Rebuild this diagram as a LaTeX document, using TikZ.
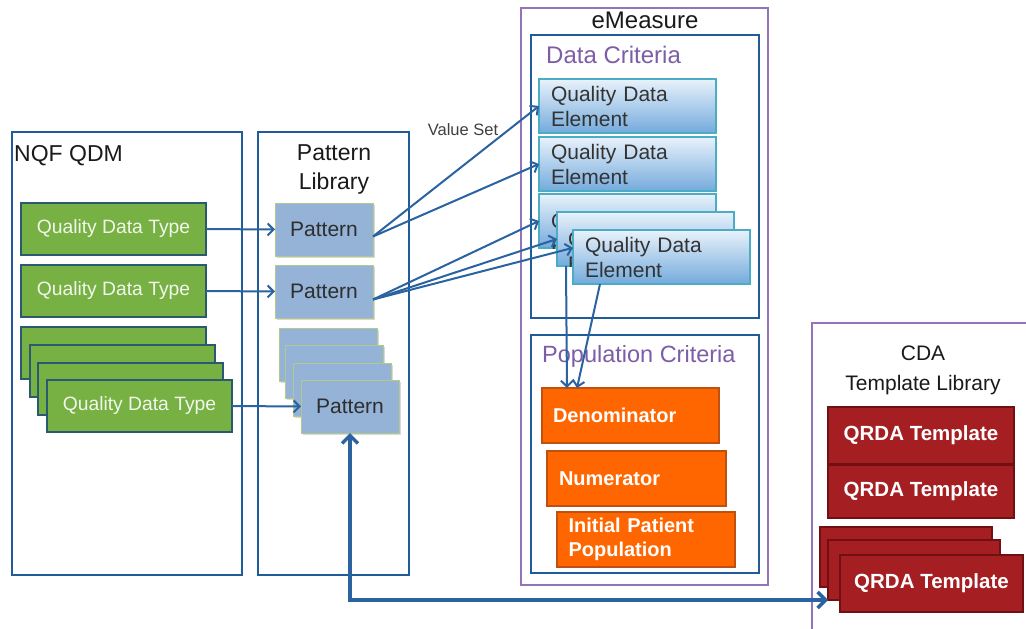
\documentclass[tikz,border=0pt]{standalone}
\usepackage{fontspec}
\setmainfont{Liberation Sans}
\usetikzlibrary{arrows.meta,calc,shadows}
\definecolor{frameblue}{HTML}{1F5C99}
\definecolor{framepurple}{HTML}{9473B8}
\definecolor{titlepurple}{HTML}{7C5DA6}
\definecolor{titleblack}{HTML}{1A1A1A}
\definecolor{qdtgreen}{HTML}{77B043}
\definecolor{qdtborder}{HTML}{2A5A72}
\definecolor{patblue}{HTML}{95B3D7}
\definecolor{patborder}{HTML}{B3C98C}
\definecolor{qdetop}{HTML}{E8F2FB}
\definecolor{qdebot}{HTML}{74AADC}
\definecolor{qdeborder}{HTML}{4BACC6}
\definecolor{orangefill}{HTML}{FF6600}
\definecolor{orangeborder}{HTML}{C0500F}
\definecolor{redfill}{HTML}{A51E22}
\definecolor{redborder}{HTML}{701015}
\definecolor{arrowblue}{HTML}{2A63A0}
\tikzset{
  nw/.style={anchor=north west, inner sep=0pt, outer sep=0pt},
  frame/.style={nw, draw=frameblue, line width=2.5pt},
  pframe/.style={nw, draw=framepurple, line width=2pt},
  title/.style={inner sep=0pt, text=titleblack, font=\fontsize{23}{29}\selectfont},
  qdt/.style={nw, draw=qdtborder, fill=qdtgreen, line width=2pt, text=white!90!qdtgreen,
     font=\fontsize{19.3}{23}\selectfont, minimum width=185pt, minimum height=52pt},
  pat/.style={nw, draw=patborder, fill=patblue, line width=1pt, text=black!82,
     font=\fontsize{21}{25}\selectfont, minimum width=98pt, minimum height=53pt,
     drop shadow={shadow xshift=1.5pt, shadow yshift=-1.5pt, fill=black!30}},
  qdebox/.style={nw, draw=qdeborder, top color=qdetop, bottom color=qdebot, line width=1.2pt,
     minimum width=177pt, minimum height=54pt},
  qde/.style={qdebox, text=black!80, font=\fontsize{21}{25}\selectfont, align=left,
     inner xsep=12pt, text width=153pt},
  qdetext/.style={anchor=base west, inner sep=0pt, text=black!80, align=left,
     font=\fontsize{21}{25}\selectfont},
  orng/.style={nw, draw=orangeborder, fill=orangefill, line width=1.2pt, text=white,
     font=\bfseries\fontsize{20}{24}\selectfont, align=left,
     inner xsep=11pt, text width=155pt, minimum width=177pt, minimum height=55pt},
  qrda/.style={nw, draw=redborder, fill=redfill, line width=1.2pt, text=white,
     font=\bfseries\fontsize{20.5}{24}\selectfont, minimum height=57pt},
  conn/.style={draw=arrowblue, line width=2pt, -{Straight Barb[length=6pt,width=12pt]}},
  bigconn/.style={draw=arrowblue, line width=3.5pt,
     {Straight Barb[length=8pt,width=16pt]}-{Straight Barb[length=8pt,width=16pt]}}
}
\begin{document}
\begin{tikzpicture}[x=1pt,y=-1pt]
\useasboundingbox (0,0) rectangle (1026,629);
\clip (0,0) rectangle (1026,629);
\fill[white] (0,0) rectangle (1026,629);

% containers
\node[frame, minimum width=230pt, minimum height=443pt] (nqf) at (12,132) {};
\node[title, anchor=west] (nqft) at (14,156) {NQF QDM};
\node[frame, minimum width=151pt, minimum height=443pt] (plib) at (258,132) {};
\node[title, align=center] (plibt) at (334,169) {Pattern\\Library};
\node[pframe, minimum width=247pt, minimum height=577pt] (emeas) at (521,8) {};
\node[title, font=\fontsize{24}{29}\selectfont] (emeast) at (645,20) {eMeasure};
\node[frame, minimum width=228pt, minimum height=283pt] (dcrit) at (531,35) {};
\node[title, anchor=west, text=titlepurple, font=\fontsize{24}{29}\selectfont] (dcritt) at (546,55) {Data Criteria};
\node[frame, minimum width=228pt, minimum height=238pt] (pcrit) at (531,335) {};
\node[title, anchor=west, text=titlepurple, font=\fontsize{23.5}{29}\selectfont] (pcritt) at (542,356) {Population Criteria};
\node[pframe, minimum width=230pt, minimum height=330pt] (cda) at (812,323) {};
\node[title, align=center, font=\fontsize{21}{30}\selectfont] (cdat) at (923,370) {CDA\\Template Library};

% quality data types
\node[qdt] (qdt1) at (21,203) {Quality Data Type};
\node[qdt] (qdt2) at (21,265) {Quality Data Type};
\node[qdt] (qdtb1) at (21,327) {};
\node[qdt] (qdtb2) at (30,345) {};
\node[qdt] (qdtb3) at (38,363) {};
\node[qdt] (qdt4) at (47,380) {Quality Data Type};

% patterns
\node[pat] (p1) at (275,203) {Pattern};
\node[pat] (p2) at (275,265) {Pattern};
\node[pat] (pb1) at (279,328) {};
\node[pat] (pb2) at (285,345) {};
\node[pat] (pb3) at (293,363) {};
\node[pat] (pf) at (301,380) {Pattern};

% quality data elements
\node[qde] (qde1) at (539,79) {Quality Data\\Element};
\node[qde] (qde2) at (539,137) {Quality Data\\Element};
\node[qdebox] (qde3a) at (539,194) {};
\begin{scope}
  \clip (qde3a.north west) rectangle (qde3a.south east);
  \node[qdetext] (qde3at) at (551,253) {Quality Data\\Element};
\end{scope}
\node[qdebox] (qde3b) at (557,212) {};
\begin{scope}
  \clip (qde3b.north west) rectangle (qde3b.south east);
  \node[qdetext] (qde3bt) at (568,271) {Quality Data\\Element};
\end{scope}
\node[qde] (qde3c) at (573,230) {Quality Data\\Element};

% population criteria
\node[orng] (den) at (542,388) {Denominator};
\node[orng, minimum width=179pt] (num) at (547,451) {Numerator};
\node[orng, minimum width=178pt] (ipp) at (557,512) {Initial Patient\\Population};

% QRDA templates
\node[qrda, minimum width=186pt] (q1) at (828,407) {QRDA Template};
\node[qrda, minimum width=186pt, minimum height=53pt] (q2) at (828,465) {QRDA Template};
\node[qrda, minimum width=172pt, minimum height=60pt] (qb1) at (820,527) {};
\node[qrda, minimum width=172pt, minimum height=60pt] (qb2) at (828,540) {};
\node[qrda, minimum width=183pt] (qf) at (840,555) {QRDA Template};

% label
\node[inner sep=0pt, text=black!75, font=\fontsize{16.5}{19}\selectfont] (vs) at (463,130) {Value Set};

% connectors
\draw[conn] (qdt1.east) -- (p1.west);
\draw[conn] (qdt2.east) -- (p2.west);
\draw[conn] (qdt4.east) -- (pf.west);
\draw[conn] ([yshift=-7pt]p1.east) -- (qde1.west);
\draw[conn] ([yshift=-7pt]p1.east) -- (qde2.west);
\draw[conn] ([yshift=-8pt]p2.east) -- (qde3a.west);
\draw[conn] ([yshift=-8pt]p2.east) -- (qde3b.west);
\draw[conn] ([yshift=-8pt]p2.east) -- ($(qde3c.north west)!0.33!(qde3c.south west)$);
\draw[conn] ($(qde3b.south west)+(9,0)$) -- ($(den.north west)+(25,0)$);
\draw[conn] ($(qde3c.south west)+(27,0)$) -- ($(den.north west)+(35,0)$);
\draw[bigconn] (pf.south) |- (qb2.south west);
\end{tikzpicture}
\end{document}
